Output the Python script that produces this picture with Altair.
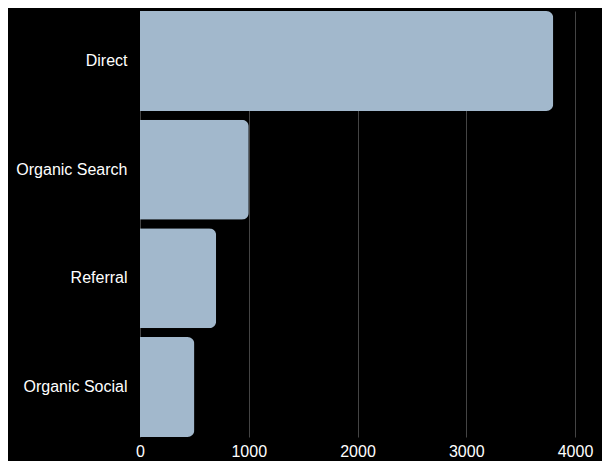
import altair as alt
import pandas as pd

channels = ["Direct", "Organic Search", "Referral", "Organic Social"]
sessions = [3800, 1000, 700, 500]
x_ticks = [0, 1000, 2000, 3000, 4000]

df = pd.DataFrame({"channel": channels, "sessions": sessions})

chart = (
    alt.Chart(df)
    .mark_bar(color="#a2b8cc", cornerRadiusEnd=7)
    .encode(
        x=alt.X(
            "sessions:Q",
            scale=alt.Scale(domain=[0, 4000], nice=False),
            axis=alt.Axis(
                values=x_ticks,
                format="d",
                title=None,
                grid=True,
                gridColor="#444444",
                gridWidth=1,
                domain=False,
                ticks=False,
                labelPadding=6,
                labelFontSize=16,
                labelColor="#ffffff",
                labelFont="Liberation Sans",
                labelFlush=False,
            ),
        ),
        y=alt.Y(
            "channel:N",
            sort=channels,
            scale=alt.Scale(paddingInner=0.08, paddingOuter=0),
            axis=alt.Axis(
                title=None,
                domain=False,
                ticks=False,
                grid=False,
                labelPadding=13,
                labelFontSize=16,
                labelColor="#ffffff",
                labelFont="Liberation Sans",
            ),
        ),
    )
    .properties(
        width=435,
        height=426,
        background="#000000",
        autosize=alt.AutoSizeParams(type="none"),
        padding={"left": 132, "top": 3, "right": 27, "bottom": 24},
    )
    .configure_view(stroke=None)
)

chart.save("out.html", embed_options={"renderer": "svg", "actions": False})
